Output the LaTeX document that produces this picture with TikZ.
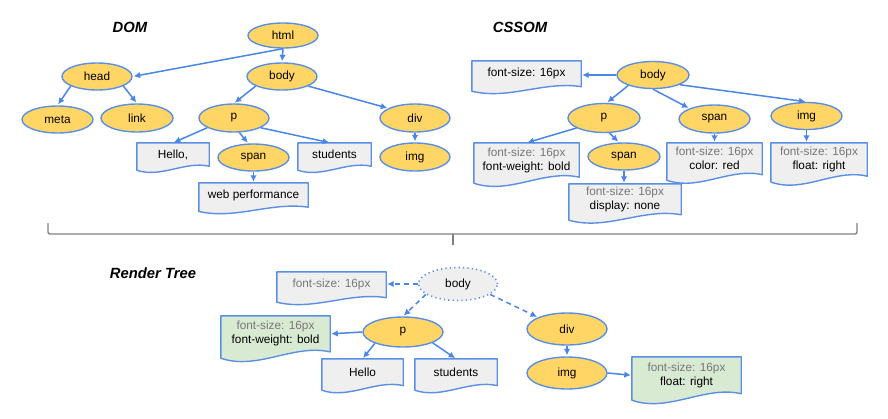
\documentclass[tikz,border=0pt]{standalone}
\usepackage{fontspec}
\setmainfont{Liberation Sans}
\usetikzlibrary{shapes.geometric,arrows.meta,calc}
\pgfdeclarelayer{background}
\pgfsetlayers{background,main}
\definecolor{nodeyellow}{HTML}{FFD666}
\definecolor{edgeblue}{HTML}{4A86E8}
\definecolor{borderblue}{HTML}{5B8FE6}
\definecolor{boxgray}{HTML}{EFEFEF}
\definecolor{boxgreen}{HTML}{D9EAD3}
\definecolor{textgray}{HTML}{777777}
\definecolor{bracegray}{HTML}{808080}
\tikzset{
  elem/.style={ellipse, draw=borderblue, line width=1.4pt, fill=nodeyellow, inner sep=0pt,
    font=\fontsize{11.8}{14}\selectfont},
  ghost/.style={ellipse, draw=borderblue, line width=1.6pt, dash pattern=on 1.2pt off 3.2pt,
    fill=boxgray, inner sep=0pt, font=\fontsize{11.8}{14}\selectfont},
  docnode/.style={rectangle, inner sep=0pt, align=center, draw=none,
    font=\fontsize{11.8}{14}\selectfont},
  docline/.style={draw=borderblue, line width=1.4pt, line join=round},
  conn/.style={draw=edgeblue, line width=1.5pt, shorten >=1pt, -{Latex[length=6.5pt,width=6.5pt]}},
  dconn/.style={conn, dash pattern=on 5pt off 4pt},
  titletext/.style={font=\fontsize{14.8}{18}\selectfont\bfseries\itshape},
  bracestyle/.style={draw=bracegray, line width=1.4pt, rounded corners=2pt},
}
% name, position, width, node height, fill, text
\newcommand\mydoc[6]{%
  \node[docnode, minimum width=#3pt, minimum height=#4pt] (#1) at (#2) {#6};
  \begin{pgfonlayer}{background}
    \draw[docline, fill=#5] (#1.north west) -- (#1.north east) -- (#1.south east)
      .. controls ($(#1.south west)!0.667!(#1.south east)+(0,-0.235*#4)$)
      and ($(#1.south west)!0.333!(#1.south east)+(0,0.529*#4)$)
      .. ($(#1.south west)+(0,0.176*#4)$) -- cycle;
  \end{pgfonlayer}}
\newcommand\gr[1]{{\color{textgray}#1}}
\begin{document}
\begin{tikzpicture}[x=1pt,y=-1pt]
\useasboundingbox (0,0) rectangle (888,418);
% titles
\node[titletext] (tdom) at (130,27) {DOM};
\node[titletext] (tcssom) at (520,27) {CSSOM};
\node[titletext] (trender) at (153,273) {Render Tree};

% ---------- DOM ----------
\node[elem, minimum width=70pt, minimum height=25pt] (dhtml) at (283,35.5) {html};
\node[elem, minimum width=70pt, minimum height=27pt] (dhead) at (97,76.5) {head};
\node[elem, minimum width=70pt, minimum height=27pt] (dbody) at (282,76.5) {body};
\node[elem, minimum width=71pt, minimum height=27pt] (dmeta) at (57.5,119.5) {meta};
\node[elem, minimum width=72pt, minimum height=28pt] (dlink) at (137,118) {link};
\node[elem, minimum width=70pt, minimum height=28pt] (dp) at (234,118) {p};
\node[elem, minimum width=70pt, minimum height=28pt] (ddiv) at (415,118) {div};
\node[elem, minimum width=71pt, minimum height=27pt] (dspan) at (253.5,157.5) {span};
\node[elem, minimum width=70pt, minimum height=28pt] (dimg) at (415,157) {img};
\mydoc{dhello}{173,154.5}{72}{23}{boxgray}{Hello,}
\mydoc{dstudents}{334.5,154.5}{73}{23}{boxgray}{students}
\mydoc{dweb}{253.5,195}{109}{24}{boxgray}{web performance}

\draw[conn] (dhtml.south) -- (dhead.east);
\draw[conn] (dhtml.south) -- (dbody.north);
\draw[conn] (dhead.-160) -- (dmeta.north);
\draw[conn] (dhead.-20) -- (dlink.north);
\draw[conn] (dbody.-160) -- (dp.north);
\draw[conn] (dbody.-20) -- (ddiv.160);
\draw[conn] (dp.-160) -- (dhello.north);
\draw[conn] (dp.-70) -- (dspan.110);
\draw[conn] (dp.-20) -- (dstudents.110);
\draw[conn] (ddiv.south) -- (dimg.north);
\draw[conn] (dspan.south) -- (dweb.north);

% ---------- CSSOM ----------
\node[elem, minimum width=72pt, minimum height=27pt] (cbody) at (653,75) {body};
\node[elem, minimum width=72pt, minimum height=29pt] (cp) at (604,118) {p};
\node[elem, minimum width=71pt, minimum height=28pt] (cspan) at (714.5,119) {span};
\node[elem, minimum width=71pt, minimum height=27pt] (cimg) at (806.5,116) {img};
\node[elem, minimum width=72pt, minimum height=27pt] (cspantwo) at (624,156.5) {span};
\mydoc{cfs}{526.5,73.75}{109}{25.5}{boxgray}{font-size: 16px}
\mydoc{cpbox}{526.5,160}{105}{34}{boxgray}{\gr{font-size: 16px}\\font-weight: bold}
\mydoc{cspantwobox}{625,199.3}{112}{30.6}{boxgray}{\gr{font-size: 16px}\\display: none}
\mydoc{cspanbox}{714.5,158.75}{95}{31.5}{boxgray}{\gr{font-size: 16px}\\color: red}
\mydoc{cimgbox}{819,159.5}{96}{33}{boxgray}{\gr{font-size: 16px}\\float: right}

\draw[conn] (cbody.west) -- (cbody.west -| cfs.east);
\draw[conn] (cbody.-157) -- (cp.80);
\draw[conn] (cbody.south) -- (cspan.157);
\draw[conn] (cbody.-20) -- (cimg.north);
\draw[conn] (cp.-160) -- (cpbox.north);
\draw[conn] (cp.-70) -- (cspantwo.110);
\draw[conn] (cspan.south) -- (cspan.south |- cspanbox.north);
\draw[conn] (cimg.south) -- (cimg.south |- cimgbox.north);
\draw[conn] (cspantwo.south) -- (cspantwo.south |- cspantwobox.north);

% ---------- brace ----------
\draw[bracestyle] (48,223) -- (48,234) -- (857,234) -- (857,223);
\draw[draw=bracegray, line width=1.6pt] (453,234) -- (453,245);

% ---------- Render tree ----------
\node[ghost, minimum width=79pt, minimum height=33pt] (rbody) at (458,284) {body};
\node[elem, minimum width=80pt, minimum height=30pt] (rp) at (403,332) {p};
\node[elem, minimum width=80pt, minimum height=32pt] (rdiv) at (567,329) {div};
\node[elem, minimum width=80pt, minimum height=32pt] (rimg) at (567,373) {img};
\mydoc{rfs}{331.5,284.75}{109}{25.5}{boxgray}{\gr{font-size: 16px}}
\mydoc{rgone}{275.5,333.85}{109}{35.7}{boxgreen}{\gr{font-size: 16px}\\font-weight: bold}
\mydoc{rhello}{362.5,372.2}{81}{26.4}{boxgray}{Hello}
\mydoc{rstudents}{456,372.2}{82}{26.4}{boxgray}{students}
\mydoc{rgtwo}{686.5,375.3}{109}{36.5}{boxgreen}{\gr{font-size: 16px}\\float: right}

\draw[dconn] (rbody.west) -- (rbody.west -| rfs.east);
\draw[dconn] (rbody.-162) -- (rp.north);
\draw[dconn] (rbody.-18) -- (rdiv.158);
\draw[conn] (rp.west) -- (rgone.east);
\draw[conn] (rp.-158) -- (rhello.north);
\draw[conn] (rp.-20) -- (rstudents.north);
\draw[conn] (rdiv.south) -- (rimg.north);
\draw[conn] (rimg.east) -- (rgtwo.west);
\end{tikzpicture}
\end{document}
